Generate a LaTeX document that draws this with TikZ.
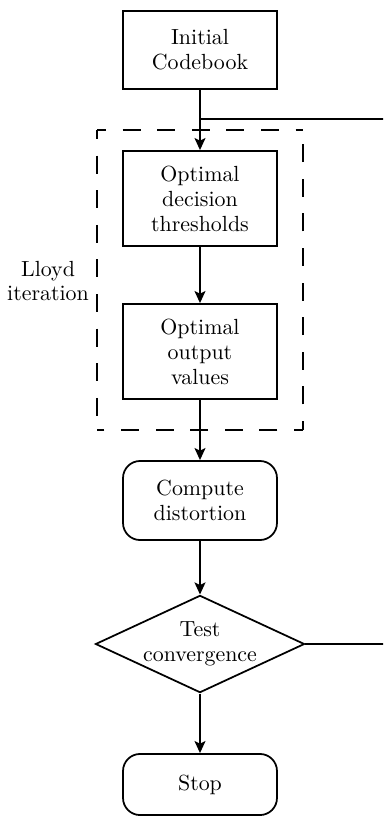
\documentclass[tikz,border=0pt]{standalone}
\usetikzlibrary{shapes.geometric,arrows.meta}
\begin{document}
\begin{tikzpicture}[x=0.4566pt,y=-0.4566pt,
  every node/.style={font=\fontsize{10}{11.4}\selectfont, align=center, line width=0.8pt},
  procbox/.style={draw, rectangle, minimum width=70.3pt, inner sep=0pt},
  roundbox/.style={draw, rectangle, rounded corners=7.8pt, minimum width=70.3pt, inner sep=0pt},
  testbox/.style={draw, diamond, aspect=2.15, inner sep=0pt, minimum width=94.5pt, minimum height=43.8pt},
  flow/.style={line width=0.8pt, -{Stealth[length=5.5pt,width=5pt,inset=1.2pt]}},
  plain/.style={line width=0.8pt},
  groupbox/.style={line width=0.8pt, dash pattern=on 8.2pt off 7.6pt, dash phase=4.1pt}
]
\useasboundingbox (0,0) rectangle (383,816);
\clip (0,0) rectangle (383,816);

\node[procbox, minimum height=35.6pt] (init) at (200,50) {Initial\\Codebook};
\node[procbox, minimum height=43.4pt] (thr) at (200,198.5) {Optimal\\decision\\thresholds};
\node[procbox, minimum height=43.4pt] (out) at (200,351.5) {Optimal\\output\\values};
\node[roundbox, minimum height=36.1pt] (dist) at (200,500.5) {Compute\\distortion};
\node[testbox] (test) at (200,644) {Test\\convergence};
\node[roundbox, minimum height=27.9pt] (stop) at (200,784.5) {Stop};
\node (lloyd) at (48,281) {Lloyd\\iteration};

\coordinate (j) at (200,119);
\coordinate (r1) at (400,644);

\draw[groupbox] (97,130) -- (97,430);
\draw[groupbox] (97,130) -- (303,130);
\draw[groupbox] (303,430) -- (303,130);
\draw[groupbox] (303,430) -- (97,430);

\draw[flow] (init) -- (thr);
\draw[flow] (thr) -- (out);
\draw[flow] (out) -- (dist);
\draw[flow] (dist) -- (test);
\draw[flow] (test) -- (stop);
\draw[plain] (test.east) -- (r1) |- (j);
\end{tikzpicture}
\end{document}
